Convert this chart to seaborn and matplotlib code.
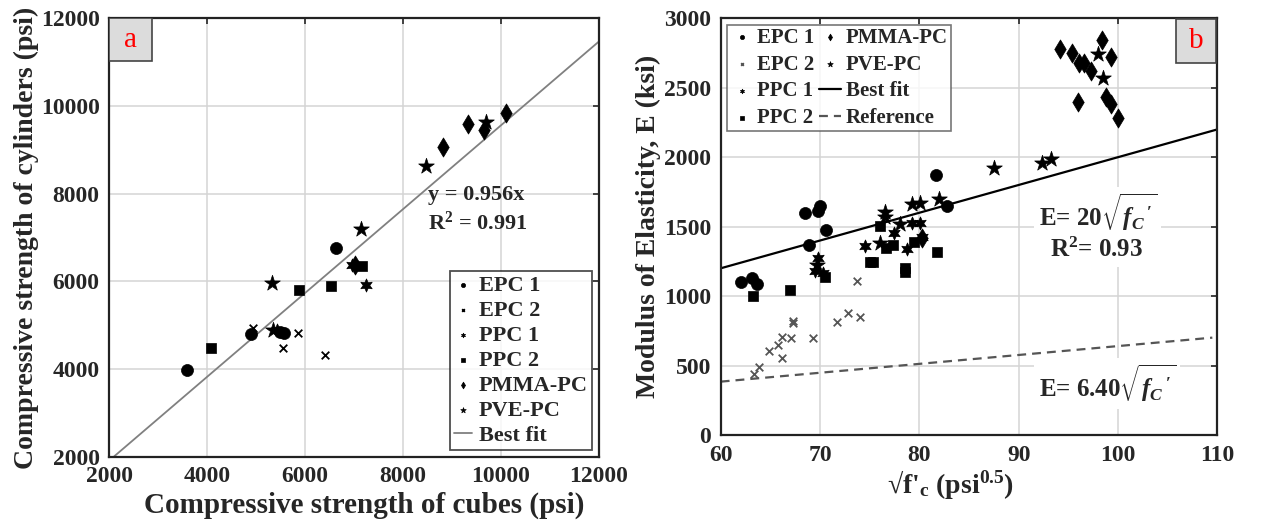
import numpy as np
import matplotlib
matplotlib.use('Agg')
import matplotlib.pyplot as plt
from matplotlib.patches import Rectangle
import seaborn as sns
import pandas as pd

# ---- panel a: cylinders vs cubes (psi)
a_epc1_x = [3580, 4890, 5480, 5560, 6630]
a_epc1_y = [3970, 4790, 4840, 4810, 6760]
a_epc2_x = [4940, 5860, 5550, 6400]
a_epc2_y = [4930, 4830, 4470, 4320]
a_ppc1_x = [7250, 6950, 5430]
a_ppc1_y = [5920, 6380, 4880]
a_ppc2_x = [4080, 5870, 6520, 7160]
a_ppc2_y = [4480, 5800, 5900, 6360]
a_pmma_x = [8820, 9330, 9650, 10100, 7020]
a_pmma_y = [9070, 9600, 9450, 9850, 6370]
a_pve_x = [8460, 9700, 7150, 5330, 5350]
a_pve_y = [8620, 9640, 7190, 5970, 4880]
a_slope = 0.956

# ---- panel b: modulus vs sqrt(f'c)
b_epc1_x = [62.0, 63.2, 63.7, 68.5, 69.8, 70.0, 68.9, 70.6, 81.65, 82.8]
b_epc1_y = [1100, 1130, 1090, 1600, 1610, 1650, 1370, 1475, 1875, 1650]
b_epc2_x = [63.35, 63.9, 64.9, 65.8, 66.2, 66.2, 67.05, 67.25, 67.3, 69.3, 71.7, 72.8, 74.0, 73.7]
b_epc2_y = [437, 492, 605, 648, 552, 708, 696, 823, 804, 701, 811, 876, 852, 1111]
b_ppc1_x = [69.5, 69.8, 70.3, 74.5, 77.5, 78.8, 80.3, 79.3, 80.1]
b_ppc1_y = [1183, 1272, 1164, 1363, 1452, 1339, 1428, 1529, 1529]
b_ppc2_x = [63.3, 67.0, 70.5, 76.0, 75.0, 75.3, 76.6, 77.3, 78.6, 78.6, 79.5, 81.8]
b_ppc2_y = [1003, 1044, 1140, 1507, 1243, 1243, 1344, 1368, 1200, 1176, 1387, 1320]
b_pmma_x = [94.2, 95.4, 96.1, 96.55, 97.3, 98.4, 99.3, 95.95, 98.8, 99.3, 100.0, 80.3]
b_pmma_y = [2777, 2748, 2681, 2681, 2623, 2844, 2724, 2395, 2431, 2381, 2280, 1420]
b_pve_x = [87.55, 92.4, 93.3, 98.0, 98.5, 69.7, 76.5, 76.55, 78.05, 79.3, 80.1, 82.0, 76.0]
b_pve_y = [1920, 1956, 1987, 2741, 2568, 1224, 1603, 1572, 1519, 1663, 1673, 1699, 1380]
b_fit_slope = 20
b_ref_slope = 6.40

groups = ['EPC 1', 'EPC 2', 'PPC 1', 'PPC 2', 'PMMA-PC', 'PVE-PC']
markers = {'EPC 1': 'o', 'EPC 2': 'x', 'PPC 1': (6, 1, 0), 'PPC 2': 's',
           'PMMA-PC': 'd', 'PVE-PC': '*'}
sizes = {'EPC 1': 75, 'EPC 2': 30, 'PPC 1': 90, 'PPC 2': 55, 'PMMA-PC': 95, 'PVE-PC': 140}

sns.set_style('white')
plt.rcParams['font.family'] = ['Liberation Serif', 'DejaVu Serif']
plt.rcParams['font.weight'] = 'bold'
plt.rcParams['mathtext.fontset'] = 'custom'
plt.rcParams['mathtext.rm'] = 'Liberation Serif:bold'
plt.rcParams['mathtext.bf'] = 'Liberation Serif:bold'
plt.rcParams['mathtext.it'] = 'Liberation Serif:italic:bold'


def make_df(xs, ys):
    rows = []
    for g, x, y in zip(groups, xs, ys):
        for xi, yi in zip(x, y):
            rows.append({'x': xi, 'y': yi, 'group': g})
    return pd.DataFrame(rows)


def draw_points(ax, df, epc2_color):
    for g in groups:
        sub = df[df['group'] == g]
        col = epc2_color if g == 'EPC 2' else 'black'
        kw = dict(linewidth=1.3) if g == 'EPC 2' else dict(edgecolor='black', linewidth=0.5)
        sns.scatterplot(data=sub, x='x', y='y', ax=ax, marker=markers[g], s=sizes[g],
                        color=col, label=g, zorder=3, **kw)


def style_axes(ax):
    ax.grid(True, color='#d4d4d4', linewidth=1.1)
    ax.set_axisbelow(True)
    for sp in ax.spines.values():
        sp.set_visible(True)
        sp.set_color('#222222')
        sp.set_linewidth(1.6)
    ax.tick_params(direction='in', length=4, width=1.2, top=True, right=True,
                   labelsize=17, pad=7)
    for lab in ax.get_xticklabels() + ax.get_yticklabels():
        lab.set_fontweight('bold')


def tag(ax, letter, x0, y0, w, h):
    ax.add_patch(Rectangle((x0, y0), w, h, transform=ax.transAxes, facecolor='#dcdcdc',
                           edgecolor='#444444', linewidth=1.2, zorder=5))
    ax.text(x0 + w / 2, y0 + h / 2, letter, transform=ax.transAxes, fontsize=21,
            color='red', fontweight='normal', ha='center', va='center', zorder=6)


fig = plt.figure(figsize=(12.65, 5.23), dpi=100)
ax1 = fig.add_axes([0.0864, 0.1268, 0.3871, 0.8382])
ax2 = fig.add_axes([0.5697, 0.1683, 0.3926, 0.7967])

# panel a
df_a = make_df([a_epc1_x, a_epc2_x, a_ppc1_x, a_ppc2_x, a_pmma_x, a_pve_x],
               [a_epc1_y, a_epc2_y, a_ppc1_y, a_ppc2_y, a_pmma_y, a_pve_y])
draw_points(ax1, df_a, 'black')
fit_x = np.array([2100, 12000])
sns.lineplot(x=fit_x, y=a_slope * fit_x, ax=ax1, color='#808080', linewidth=1.3,
             label='Best fit', zorder=2)
ax1.set_xlim(2000, 12000)
ax1.set_ylim(2000, 12000)
ax1.set_xticks(np.arange(2000, 12001, 2000))
ax1.set_yticks(np.arange(2000, 12001, 2000))
style_axes(ax1)
ax1.set_xlabel('Compressive strength of cubes (psi)', fontsize=21, fontweight='bold', labelpad=3)
ax1.xaxis.label.set_x(0.52)
ax1.set_ylabel('Compressive strength of cylinders (psi)', fontsize=20, fontweight='bold', labelpad=1)
ax1.text(8500, 8200, 'y = 0.956x\nR$^2$ = 0.991', fontsize=16, fontweight='bold',
         va='top', ha='left', linespacing=1.35)
leg1 = ax1.legend(loc='lower right', fontsize=16, markerscale=0.35, frameon=True,
                  fancybox=False, edgecolor='#222222', handlelength=0.8,
                  handletextpad=0.3, borderpad=0.2, labelspacing=0.2,
                  borderaxespad=0.3)
leg1.get_frame().set_linewidth(1.3)
tag(ax1, 'a', 0.0, 0.9026, 0.087, 0.0974)

# panel b
df_b = make_df([b_epc1_x, b_epc2_x, b_ppc1_x, b_ppc2_x, b_pmma_x, b_pve_x],
               [b_epc1_y, b_epc2_y, b_ppc1_y, b_ppc2_y, b_pmma_y, b_pve_y])
draw_points(ax2, df_b, '#555555')
lx = np.array([60, 110])
sns.lineplot(x=lx, y=b_fit_slope * lx, ax=ax2, color='black', linewidth=1.6,
             label='Best fit', zorder=2)
rx = np.array([60, 109.5])
ax2.plot(rx, b_ref_slope * rx, color='#555555', linewidth=1.6, linestyle=(0, (4, 2.7)),
         label='Reference', zorder=2)
ax2.set_xlim(60, 110)
ax2.set_ylim(0, 3000)
ax2.set_xticks(np.arange(60, 111, 10))
ax2.set_yticks(np.arange(0, 3001, 500))
style_axes(ax2)
ax2.set_xlabel("√f'$_{\\mathbf{c}}$ (psi$^{\\mathbf{0.5}}$)", fontsize=20, fontweight='bold', labelpad=2)
ax2.xaxis.label.set_x(0.462)
ax2.set_ylabel('Modulus of Elasticity, E (ksi)', fontsize=20, fontweight='bold', labelpad=2)
bb = dict(facecolor='white', edgecolor='none', pad=3)
ax2.text(92.0, 1600, "E= 20$\\sqrt{f_{C}\\,'}$", fontsize=18, fontweight='bold',
         va='center', ha='left', bbox=bb)
ax2.text(93.2, 1330, 'R$^2$= 0.93', fontsize=18, fontweight='bold',
         va='center', ha='left', bbox=bb)
ax2.text(92.0, 370, "E= 6.40$\\sqrt{f_{C}\\,'}$", fontsize=18, fontweight='bold',
         va='center', ha='left', bbox=bb)
leg2 = ax2.legend(loc='upper left', ncol=2, fontsize=15, markerscale=0.35, frameon=True,
                  fancybox=False, edgecolor='#555555', handlelength=1.1,
                  handletextpad=0.2, borderpad=0.15, labelspacing=0.33,
                  columnspacing=0.2, borderaxespad=0.3)
leg2.get_frame().set_linewidth(1.2)
tag(ax2, 'b', 0.917, 0.893, 0.081, 0.105)

fig.savefig('out.png', dpi=100)
